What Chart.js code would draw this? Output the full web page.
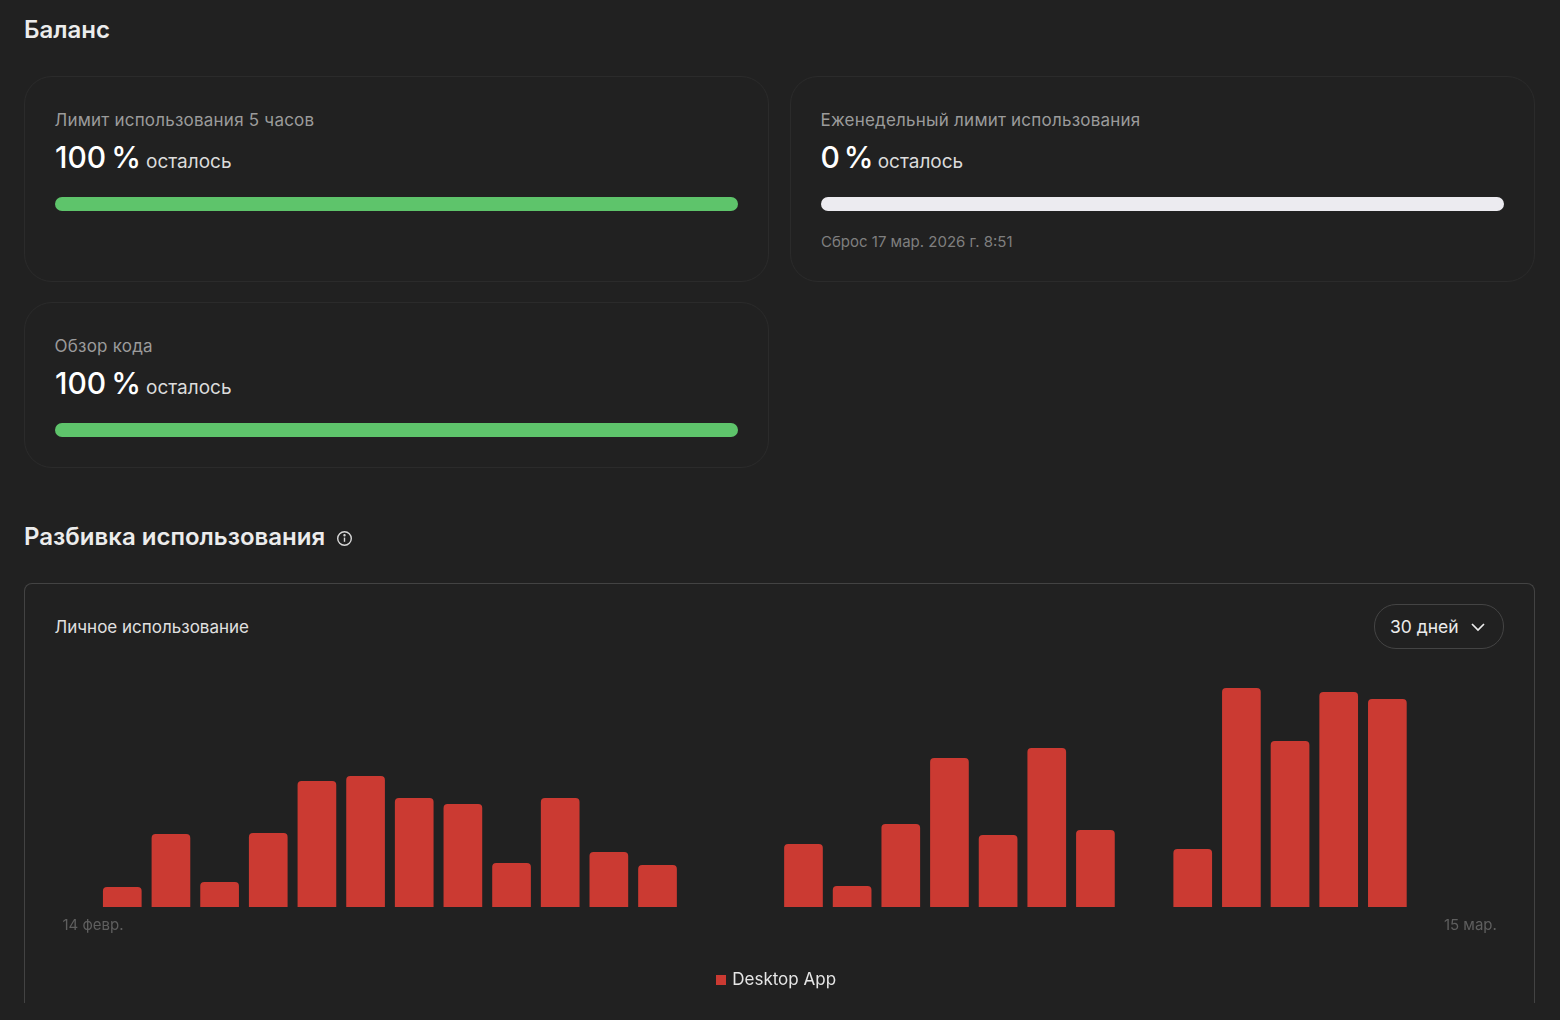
<!DOCTYPE html>
<html lang="ru">
<head>
<meta charset="utf-8">
<title>Баланс</title>
<script src="https://cdn.jsdelivr.net/npm/chart.js@4"></script>
<style>
  html, body { margin:0; padding:0; width:1560px; height:1020px; overflow:hidden; background:#212121; font-family:Inter, "Noto Sans", sans-serif; }
  .abs { position:absolute; white-space:nowrap; }
  h2 { margin:0; font-size:24px; line-height:30px; font-weight:600; color:#ececec; }
  .card { position:absolute; box-sizing:border-box; border:1px solid #2b2b2b; border-radius:28px; }
  .label { font-size:17px; line-height:22px; color:#9b9b9b; letter-spacing:0.22px; }
  .big { font-size:30px; line-height:36px; font-weight:500; color:#fff; word-spacing:-3px; }
  .big span { font-size:19px; font-weight:400; color:#dcdcdc; word-spacing:0; }
  .reset { font-size:15px; line-height:20px; color:#7f7f7f; }
  .usage { position:absolute; left:24px; top:583px; width:1511px; height:420px; box-sizing:border-box; border:1px solid #434343; border-bottom:none; border-radius:8px 8px 0 0; }
  .pick { position:absolute; left:1374px; top:604px; width:130px; height:45px; box-sizing:border-box; border:1px solid #444; border-radius:22px; }
  canvas { position:absolute; display:block; }
</style>
</head>
<body>
<h2 class="abs" style="left:24px;top:15px">Баланс</h2>

<div class="card" style="left:24px;top:76px;width:745px;height:206px"></div>
<div class="abs label" style="left:54.5px;top:109px">Лимит использования 5 часов</div>
<div class="abs big" style="left:55px;top:139px">100 % <span>осталось</span></div>
<canvas id="limit5h" style="left:55px;top:197px"></canvas>

<div class="card" style="left:790px;top:76px;width:745px;height:206px"></div>
<div class="abs label" style="left:820.5px;top:109px">Еженедельный лимит использования</div>
<div class="abs big" style="left:820.5px;top:139px;word-spacing:-4px">0 % <span>осталось</span></div>
<canvas id="limitWeek" style="left:821px;top:197px"></canvas>
<div class="abs reset" style="left:821px;top:232px">Сброс 17 мар. 2026 г. 8:51</div>

<div class="card" style="left:24px;top:302px;width:745px;height:166px"></div>
<div class="abs label" style="left:54.5px;top:335px">Обзор кода</div>
<div class="abs big" style="left:55px;top:365px">100 % <span>осталось</span></div>
<canvas id="limitCode" style="left:55px;top:423px"></canvas>

<h2 class="abs" style="left:24px;top:522px">Разбивка использования</h2>
<svg class="abs" style="left:336px;top:530px" width="17" height="17" viewBox="0 0 17 17" fill="none" stroke="#d8d8d8" stroke-width="1.4">
  <circle cx="8.5" cy="8.5" r="6.8"/><path d="M8.5 7.6v4.2"/><circle cx="8.5" cy="5.2" r=".5" fill="#d8d8d8"/>
</svg>

<div class="usage"></div>
<div class="abs" style="left:54.5px;top:616px;font-size:17px;line-height:22px;color:#e0e0e0">Личное использование</div>
<div class="pick"></div>
<div class="abs" style="left:1390px;top:616px;font-size:17.5px;line-height:22px;color:#ececec">30 дней</div>
<svg class="abs" style="left:1470px;top:621px" width="16" height="12" viewBox="0 0 16 12" fill="none" stroke="#ececec" stroke-width="1.7"><path d="M2 3l6 6 6-6"/></svg>

<canvas id="usageChart" style="left:21px;top:650px"></canvas>

<script>
// progress bars: % left and % spent
const barIds = ["limit5h","limitWeek","limitCode"];
const remaining = [100,0,100];
const spent = [0,100,0];

// usage per day, no scale on the picture so units are relative
const days = ["14 февр.","15 февр.","16 февр.","17 февр.","18 февр.","19 февр.","20 февр.","21 февр.","22 февр.","23 февр.","24 февр.","25 февр.","26 февр.","27 февр.","28 февр.",
  "1 мар.","2 мар.","3 мар.","4 мар.","5 мар.","6 мар.","7 мар.","8 мар.","9 мар.","10 мар.","11 мар.","12 мар.","13 мар.","14 мар.","15 мар."];
const desktopApp = [0,20,73,25,74,126,131,109,103,44,109,55,42,0,0,63,21,83,149,72,159,77,0,58,219,166,215,208,0,0];
const seriesName = "Desktop App";
const tickLabels = ["14 февр.","15 мар."];
const tickSpots = [-0.23,29.25];

Chart.defaults.font.family = "Inter, 'Noto Sans', sans-serif";
Chart.defaults.animation = false;

function progressBar(id, left, used){
  const c = document.getElementById(id);
  c.width = 683; c.height = 14;
  const look = {borderRadius:7,borderSkipped:false,inflateAmount:0,barPercentage:1,categoryPercentage:1,grouped:false};
  new Chart(c,{
    type:"bar",
    data:{
      labels:[""],
      datasets:[
        {data:[left],backgroundColor:"#5ec46b",...look},
        {data:[used],backgroundColor:"#ecebf0",...look}
      ]
    },
    options:{
      indexAxis:"y",
      responsive:false,
      plugins:{legend:{display:false},tooltip:{enabled:false}},
      scales:{
        x:{display:false,min:0,max:100},
        y:{display:false}
      }
    }
  });
}
barIds.forEach((id,i)=>progressBar(id,remaining[i],spent[i]));

// legend square, as an image so the gap to the text can be tighter than the default
const legendSquare = document.createElement("canvas");
legendSquare.width = 10; legendSquare.height = 10;
const sq = legendSquare.getContext("2d");
sq.fillStyle = "#cb3a32";
sq.fillRect(0,0,10,10);

// the legend sits slightly left of the plot centre
const legendNudge = {
  id:"legendNudge",
  afterLayout(chart){
    chart.legend.left -= 1.75;
    chart.legend.right -= 1.75;
  }
};

const usage = document.getElementById("usageChart");
usage.width = 1509; usage.height = 353;
new Chart(usage,{
  type:"bar",
  plugins:[legendNudge],
  data:{
    labels:days,
    datasets:[{
      label:seriesName,
      data:desktopApp,
      backgroundColor:"#cb3a32",
      borderRadius:{topLeft:4,topRight:4},
      borderSkipped:"bottom",
      barPercentage:0.795,
      categoryPercentage:1
    }]
  },
  options:{
    responsive:false,
    layout:{padding:{left:28.3,right:21,top:38,bottom:5}},
    plugins:{
      tooltip:{enabled:false},
      legend:{
        position:"bottom",
        labels:{color:"#e6e6e6",font:{size:17},usePointStyle:true,pointStyle:legendSquare,boxWidth:5,padding:10}
      }
    },
    scales:{
      x:{
        grid:{display:false,drawTicks:false},
        border:{display:false},
        // only two date labels, sitting a bit outside the first/last day
        afterBuildTicks:s=>{ s.ticks = tickSpots.map(value=>({value})); },
        afterFit:s=>{ s.height = 54; },
        ticks:{
          color:"#5f5f5f",
          font:{size:15},
          padding:9,
          align:"inner",
          autoSkip:false,
          maxRotation:0,
          callback:(v,i)=>tickLabels[i]
        }
      },
      y:{display:false,min:0,max:219}
    }
  }
});
</script>
</body>
</html>
